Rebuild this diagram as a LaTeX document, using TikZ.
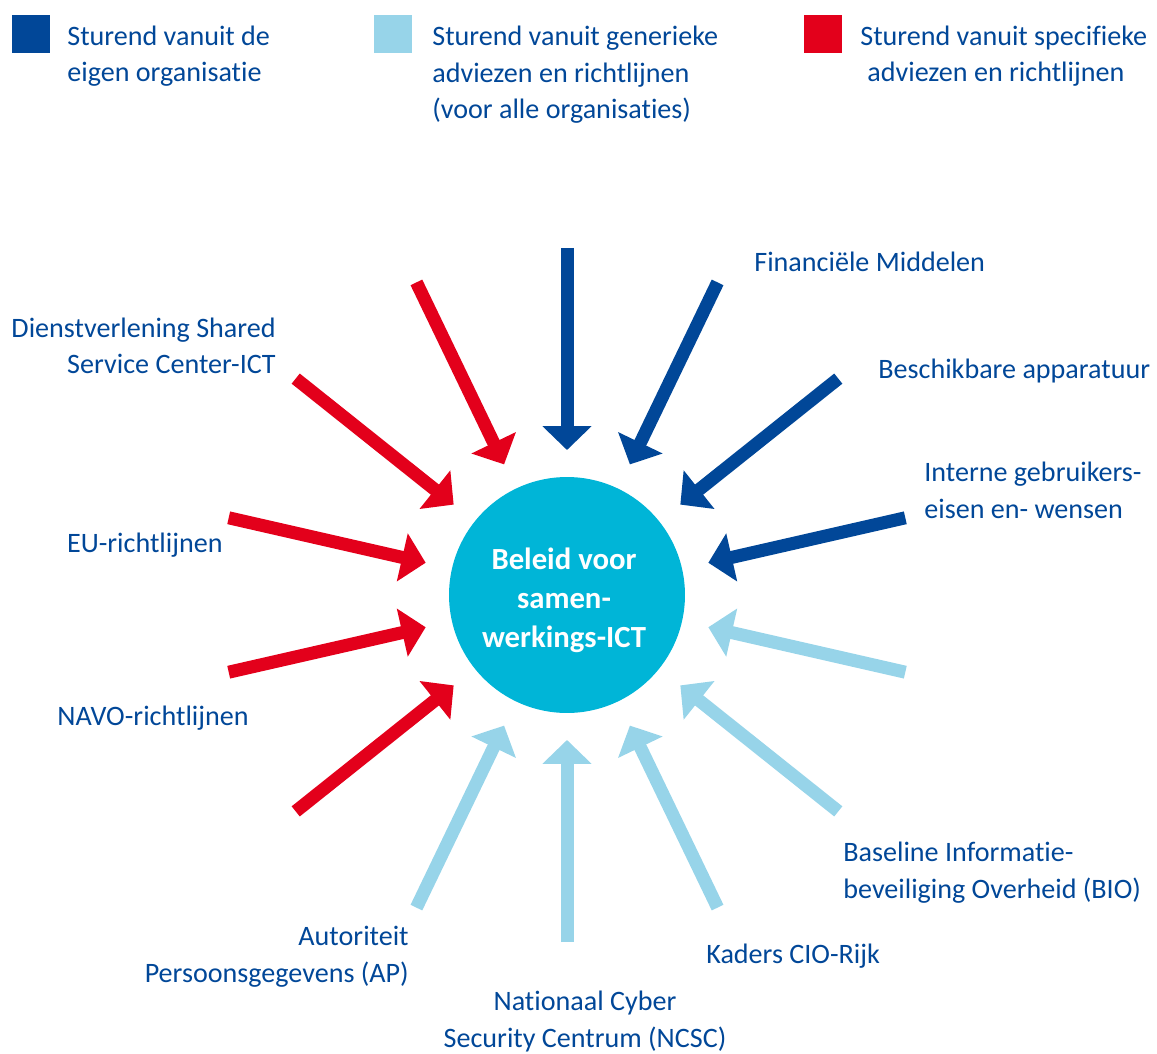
\documentclass[tikz,border=0pt]{standalone}
\usepackage{fontspec}
\setmainfont{Carlito}[Ligatures=NoCommon]
\usetikzlibrary{arrows.meta}
\definecolor{eigenblue}{RGB}{1,71,152}
\definecolor{genblue}{RGB}{151,212,233}
\definecolor{specred}{RGB}{227,0,27}
\definecolor{hubcyan}{RGB}{0,181,215}
\tikzset{
  lbl/.style={text=eigenblue, inner sep=0, font=\fontsize{16}{21}\selectfont},
  push/.style={line width=0.26cm, -{Triangle[width=0.96cm,length=0.48cm]}, shorten >=0.54cm},
  keybox/.style={anchor=north west, minimum size=0.76cm, inner sep=0}
}
\begin{document}
\begin{tikzpicture}[x=0.02cm, y=-0.02cm] %[scale=0.02]
  \useasboundingbox (0,0) rectangle (1157,1054);
  % legend
  \node [keybox, fill=eigenblue] (key1) at (12,15) {};
  \node [keybox, fill=genblue] (key2) at (374,15) {};
  \node [keybox, fill=specred] (key3) at (804,15) {};
  \node [lbl, anchor=base west, align=left] (leg1) at (67,82) {Sturend vanuit de\\eigen organisatie};
  \node [lbl, anchor=base west, align=left] (leg2) at (432,119) {Sturend vanuit generieke\\adviezen en richtlijnen\\(voor alle organisaties)};
  \node [lbl, anchor=base west, align=left] (leg3) at (860,82) {Sturend vanuit specifieke\\\hspace{4pt}adviezen en richtlijnen};
  % centre
  \node [circle, fill=hubcyan, minimum size=4.72cm, inner sep=0, outer sep=0] (hub) at (567,595) {};
  \node [anchor=base, align=center, inner sep=0, text=white,
         font=\fontsize{17.5}{22}\selectfont\bfseries] (policy) at (564,647)
         {Beleid voor\\samen-\\werkings-ICT};
  % tails
  \coordinate (s0) at (567,248);
  \coordinate (s1) at (416.4,282.4);
  \coordinate (s2) at (295.7,378.6);
  \coordinate (s3) at (228.7,517.8);
  \coordinate (s4) at (228.7,672.2);
  \coordinate (s5) at (295.7,811.4);
  \coordinate (s6) at (416.4,907.6);
  \coordinate (s7) at (567,942);
  \coordinate (s8) at (717.6,907.6);
  \coordinate (s9) at (838.3,811.4);
  \coordinate (s10) at (905.3,672.2);
  \coordinate (s11) at (905.3,517.8);
  \coordinate (s12) at (838.3,378.6);
  \coordinate (s13) at (717.6,282.4);
  \draw [push, eigenblue] (s0) -- (hub);
  \draw [push, specred] (s1) -- (hub);
  \draw [push, specred] (s2) -- (hub);
  \draw [push, specred] (s3) -- (hub);
  \draw [push, specred] (s4) -- (hub);
  \draw [push, specred] (s5) -- (hub);
  \draw [push, genblue] (s6) -- (hub);
  \draw [push, genblue] (s7) -- (hub);
  \draw [push, genblue] (s8) -- (hub);
  \draw [push, genblue] (s9) -- (hub);
  \draw [push, genblue] (s10) -- (hub);
  \draw [push, eigenblue] (s11) -- (hub);
  \draw [push, eigenblue] (s12) -- (hub);
  \draw [push, eigenblue] (s13) -- (hub);
  % labels
  \node [lbl, anchor=base west] (fin) at (754,272) {Financiële Middelen};
  \node [lbl, anchor=base west] (app) at (878,378) {Beschikbare apparatuur};
  \node [lbl, anchor=base west, align=left] (wens) at (924,518) {Interne gebruikers-\\eisen en- wensen};
  \node [lbl, anchor=base west, align=left] (bio) at (843,898) {Baseline Informatie-\\beveiliging Overheid (BIO)};
  \node [lbl, anchor=base west] (cio) at (706,963) {Kaders CIO-Rijk};
  \node [lbl, anchor=base, align=center] (ncsc) at (585,1047) {Nationaal Cyber\\Security Centrum (NCSC)};
  \node [lbl, anchor=base east, align=right] (ap) at (409,982) {Autoriteit\\Persoonsgegevens (AP)};
  \node [lbl, anchor=base east] (navo) at (249,725) {NAVO-richtlijnen};
  \node [lbl, anchor=base east] (eu) at (223,552) {EU-richtlijnen};
  \node [lbl, anchor=base east, align=right] (ssc) at (276,374) {Dienstverlening Shared\\Service Center-ICT};
\end{tikzpicture}
\end{document}
